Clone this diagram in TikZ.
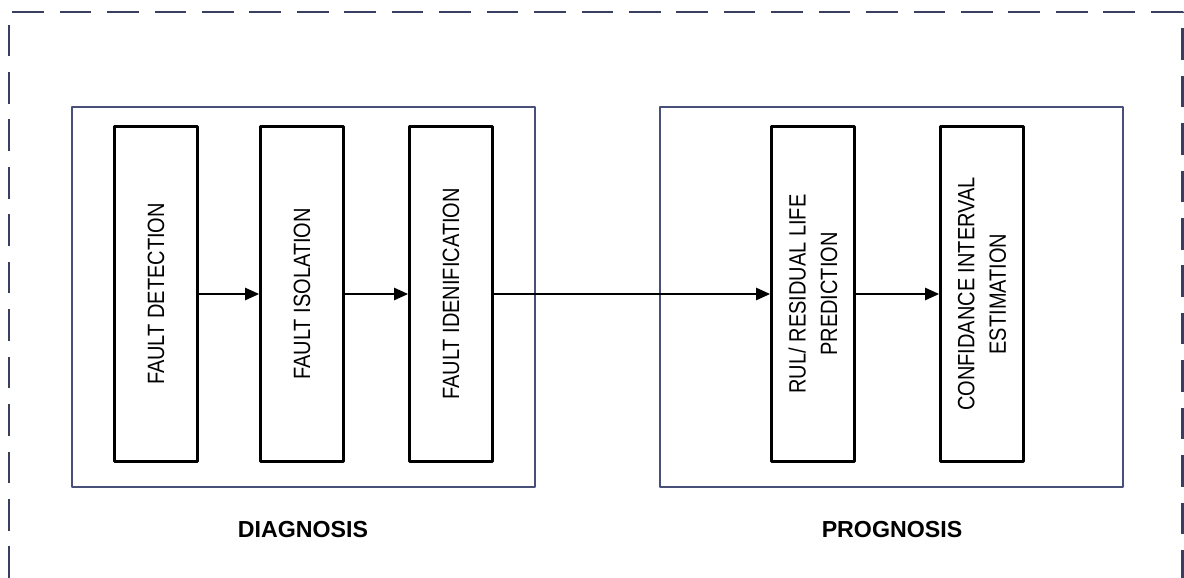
\documentclass[tikz,border=0pt]{standalone}
\usepackage{fontspec}
\setmainfont{Liberation Sans}
\newfontfamily\narrowfont{Liberation Sans}[FakeStretch=0.85]
\usetikzlibrary{arrows.meta}
\definecolor{framenavy}{RGB}{58,62,96}
\definecolor{groupnavy}{RGB}{72,80,122}
\begin{document}
\begin{tikzpicture}[>={Triangle[length=8pt,width=7pt]},line join=round,x=0.02cm,y=-0.02cm,
	block/.style={draw,line width=1.6pt,rotate=90,minimum width=6.7cm,minimum height=1.66cm,
		align=center,inner sep=0pt,font=\narrowfont\fontsize{13.4}{18}\selectfont},
	group/.style={draw=groupnavy,line width=0.8pt,minimum width=9.26cm,minimum height=7.6cm},
	title/.style={font=\fontsize{13.2}{15}\selectfont\bfseries}]
	\useasboundingbox (0,0) rectangle (1184,578);
	% outer dashed frame
	\draw[framenavy,line width=1.7pt,dash pattern=on 18pt off 9pt] (9,578) -- (9,12) -- (1182,12) -- (1182,578);
	% the two groups
	\node[group] (diag) at (303.5,297) {};
	\node[group] (prog) at (891.5,297) {};
	\node[title] (diaglbl) at (303,530) {DIAGNOSIS};
	\node[title] (proglbl) at (892,530) {PROGNOSIS};
	% steps
	\node[block] (det) at (156,294) {FAULT DETECTION};
	\node[block] (iso) at (302,294) {FAULT ISOLATION};
	\node[block] (idn) at (451,294) {FAULT IDENIFICATION};
	\node[block] (rul) at (813,294) {RUL/ RESIDUAL LIFE\\PREDICTION};
	\node[block] (conf) at (982,294) {CONFIDANCE INTERVAL\\ESTIMATION};
	\foreach \a/\b in {det/iso,iso/idn,idn/rul,rul/conf}{
		\draw[->,line width=1pt] (\a) -- (\b);
	}
\end{tikzpicture}
\end{document}
